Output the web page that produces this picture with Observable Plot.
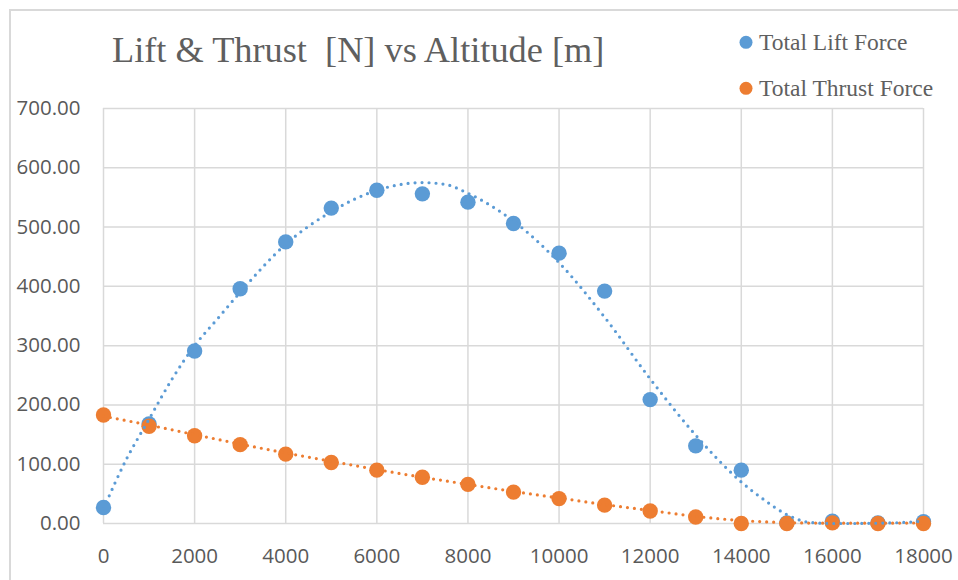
<!DOCTYPE html>
<html>
<head>
<meta charset="utf-8">
<script src="https://cdn.jsdelivr.net/npm/d3@7"></script>
<script src="https://cdn.jsdelivr.net/npm/@observablehq/plot@0.6"></script>
<style>
  html, body { margin: 0; padding: 0; background: #fff; }
  #wrap { position: relative; width: 958px; height: 580px; overflow: hidden; background: #fff; }
  #wrap > svg { position: absolute; left: 0; top: 0; }
  #frame { position: absolute; left: 9px; top: 9px; width: 960px; height: 580px; border-top: 2px solid #d9d9d9; border-left: 2px solid #d9d9d9; box-sizing: border-box; }
</style>
</head>
<body>
<div id="wrap"><div id="frame"></div></div>
<script>
// ---- data ----
const altitudes = [0, 1000, 2000, 3000, 4000, 5000, 6000, 7000, 8000, 9000, 10000, 11000, 12000, 13000, 14000, 15000, 16000, 17000, 18000];
const liftForce = [27, 168, 291, 396, 475, 532, 562, 556, 542, 506, 456, 392, 209, 131, 90, 1, 4, 1, 3];
const thrustForce = [183, 164, 148, 133, 117, 103, 90, 78, 66, 53, 42, 31, 21, 11, 0, 0, 1, 0, 0];

// trendlines
const liftTrendAlt = [0, 500, 1000, 1500, 2000, 2500, 3000, 4000, 5000, 6000, 7000, 7500, 8000, 9000, 10000, 11000, 12000, 13000, 14000, 14500, 15000, 15500, 16000, 16500, 17000, 17500, 18000];
const liftTrend = [25, 108, 176, 243, 300, 345, 390, 471, 526, 562, 575, 572, 557, 510, 440, 348, 244, 149, 70, 40, 15, 2, 0, 0, 0.5, 1.5, 4];
const thrustTrendAlt = [0, 1000, 2000, 3000, 4000, 5000, 6000, 7000, 8000, 9000, 10000, 11000, 12000, 13000, 14000, 15000, 16000, 17000, 18000];
const thrustTrend = [181, 166, 150, 134, 119, 105, 91, 78, 66, 54, 43, 32, 22, 12, 5, 1.5, 0.5, 0.5, 1];

const xTicks = [0, 2000, 4000, 6000, 8000, 10000, 12000, 14000, 16000, 18000];
const yTicks = [0, 100, 200, 300, 400, 500, 600, 700];

const seriesNames = ["Total Lift Force", "Total Thrust Force"];
const seriesColors = ["#5B9BD5", "#ED7D31"];
const titleText = "Lift & Thrust  [N] vs Altitude [m]";

// ---- build tables ----
const liftPts = altitudes.map((a, i) => ({alt: a, v: liftForce[i]}));
const thrustPts = altitudes.map((a, i) => ({alt: a, v: thrustForce[i]}));
const liftTr = liftTrendAlt.map((a, i) => ({alt: a, v: liftTrend[i]}));
const thrustTr = thrustTrendAlt.map((a, i) => ({alt: a, v: thrustTrend[i]}));

const grid = {stroke: "#d9d9d9", strokeOpacity: 1, strokeWidth: 1.5};
const dotted = {strokeWidth: 3.2, strokeDasharray: "0 7", strokeLinecap: "round", curve: "monotone-x"};

const chart = Plot.plot({
  width: 958,
  height: 580,
  marginLeft: 103,
  marginRight: 35,
  marginTop: 108,
  marginBottom: 57,
  style: {fontFamily: "'Open Sans', sans-serif", fontSize: "20.5px", color: "#595959", background: "transparent", overflow: "visible"},
  x: {domain: [0, 18000]},
  y: {domain: [0, 700]},
  marks: [
    Plot.gridX(xTicks, grid),
    Plot.gridY(yTicks, grid),
    Plot.axisX(xTicks, {tickSize: 0, tickPadding: 25, tickFormat: d => String(d), label: null, fill: "#595959", fontSize: 20.5}),
    Plot.axisY(yTicks, {tickSize: 0, tickPadding: 23, tickFormat: d3.format(".2f"), label: null, fill: "#595959", fontSize: 20.5}),
    Plot.dot(liftPts, {x: "alt", y: "v", r: 7.7, fill: seriesColors[0], stroke: null}),
    Plot.dot(thrustPts, {x: "alt", y: "v", r: 7.7, fill: seriesColors[1], stroke: null}),
    Plot.line(liftTr, {x: "alt", y: "v", stroke: seriesColors[0], ...dotted}),
    Plot.line(thrustTr, {x: "alt", y: "v", stroke: seriesColors[1], ...dotted})
  ]
});
document.getElementById("wrap").appendChild(chart);

// ---- title and legend (text overlay) ----
const ns = "http://www.w3.org/2000/svg";
const ov = document.createElementNS(ns, "svg");
ov.setAttribute("width", 958);
ov.setAttribute("height", 110);
ov.style.position = "absolute";
ov.style.left = "0px";
ov.style.top = "0px";
const serif = "'Liberation Serif', 'Times New Roman', serif";
function addText(x, y, str, size) {
  const t = document.createElementNS(ns, "text");
  t.setAttribute("x", x);
  t.setAttribute("y", y);
  t.setAttribute("fill", "#5f5f5f");
  t.setAttribute("font-family", serif);
  t.setAttribute("font-size", size);
  t.setAttribute("xml:space", "preserve");
  t.style.whiteSpace = "pre";
  t.textContent = str;
  ov.appendChild(t);
}
addText(112, 62, titleText, 36.3);
const legendY = [42.3, 88.3];
seriesNames.forEach((name, i) => {
  const c = document.createElementNS(ns, "circle");
  c.setAttribute("cx", 746);
  c.setAttribute("cy", legendY[i]);
  c.setAttribute("r", 6.5);
  c.setAttribute("fill", seriesColors[i]);
  ov.appendChild(c);
  addText(759, legendY[i] + 7.8, name, 23.5);
});
document.getElementById("wrap").appendChild(ov);
</script>
</body>
</html>
